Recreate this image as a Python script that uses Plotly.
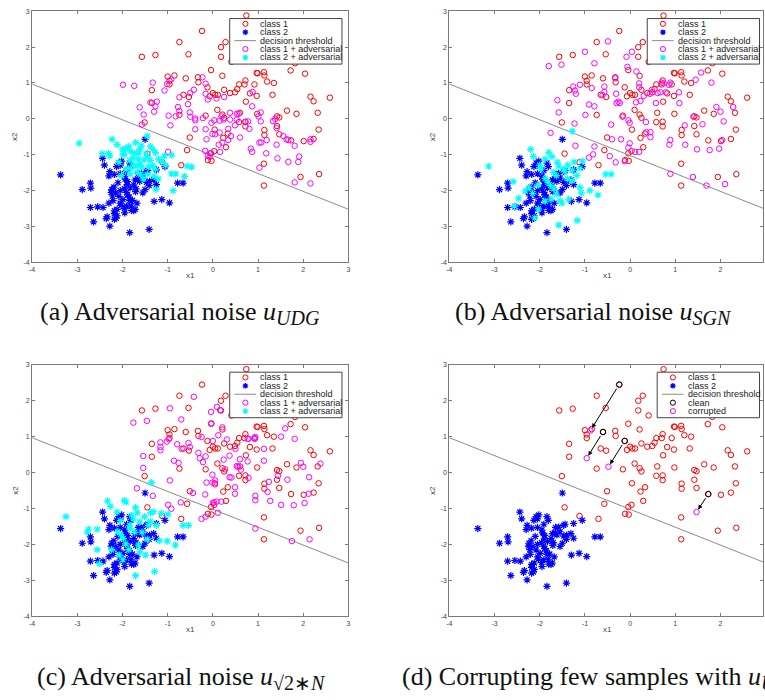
import plotly.graph_objects as go

W, H = 765, 700

# ---- class 1 samples (red circles) ----
c1_x = [-1.57, -1.27, -0.74, -0.24, 0.74, -0.54, 0.18, 0.28, 0.18, 0.41, -0.04, 0.21, -1.00, -0.96, -0.96,
        -0.85, -0.33, -0.32, -1.35, -1.35, -0.74, -0.65, -0.53, -0.07, 0.00, 0.05, 0.11, 0.25, 0.38, 0.49,
        0.54, 0.58, 0.70, 0.72, 0.92, 0.97, 0.99, 1.13, 1.14, 1.20, 1.35, 1.72, 1.82, 2.04, 2.16, 2.23, 2.59,
        2.32, 2.34, 2.23, 2.01, 1.85, 1.64, 1.42, 1.47, 1.32, 0.97, 0.82, 0.73, 0.98, 0.60, 0.58, 0.72, 0.72,
        1.14, 1.14, 1.42, 1.47, 0.10, 0.21, 0.25, -0.16, 0.04, 0.33, 0.23, 0.29, -0.51, -0.57, 0.03, -0.04,
        -0.11, -0.03, -1.51, -1.45, -1.12, -0.70, 1.13, 1.13, 1.94, 2.35, 1.73, -0.12, -0.60]
c1_y = [1.73, 1.78, 2.14, 2.45, 2.88, 1.80, 2.00, 2.14, 1.73, 1.59, 1.36, 1.20, 1.18, 1.06, 0.96,
        1.21, 1.16, 1.02, 0.80, 0.44, 0.11, 0.67, 0.61, 0.63, 0.72, 0.67, 0.67, 0.81, 0.72, 0.74,
        0.83, 0.96, 0.96, 1.07, 0.96, 1.28, 1.27, 1.30, 1.21, 1.04, 1.00, 1.35, 1.55, 1.26, 0.62, 0.49, 0.59,
        0.17, -0.30, -0.56, -0.62, 0.14, 0.23, 0.07, 0.04, 0.67, 0.64, 0.71, 0.48, 0.14, 0.17, -0.09, -0.08, -0.21,
        -0.31, -0.45, -0.20, -0.43, 0.25, 0.12, 0.03, 0.09, -0.30, -0.41, -0.53, -0.79, -0.52, -0.87, -0.90, -0.96,
        -1.15, -1.17, -0.10, -0.97, -1.21, -1.29, -1.25, -1.86, -1.62, -1.54, -0.60, 0.88, 1.13]

# ---- class 2 samples (blue asterisks) ----
c2_x = [-1.50, -3.37, -2.89, -2.71, -2.70, -2.44, -2.40, -2.28, -2.30, -2.13, -2.08, -2.02, -2.05, -1.84,
        -1.81, -1.91, -2.05, -2.18, -1.65, -1.44, -1.47, -1.25, -1.06, -1.94, -1.89, -1.90, -1.72, -1.66,
        -1.62, -1.75, -1.83, -1.47, -1.40, -1.41, -1.31, -1.25, -1.55, -1.50, -2.24, -2.19, -2.25, -2.15,
        -2.08, -2.21, -1.96, -1.91, -1.89, -1.99, -1.84, -1.78, -2.03, -1.91, -1.96, -2.18, -2.12, -1.81,
        -1.72, -1.75, -1.71, -1.30, -1.13, -0.96, -0.78, -0.66, -2.71, -2.55, -2.43, -2.34, -2.36, -2.64,
        -2.28, -2.18, -2.14, -1.84, -1.41, -2.18, -2.12, -1.95, -2.05, -1.85, -2.22, -1.58, -1.55, -2.30,
        -2.05, -1.68, -1.95, -1.80, -2.10, -1.70]
c2_y = [-0.57, -1.56, -1.97, -1.79, -1.93, -1.10, -1.29, -1.47, -1.59, -1.33, -1.23, -1.18, -1.29, -1.23,
        -1.33, -1.44, -1.53, -1.55, -1.53, -1.44, -1.47, -1.42, -1.33, -1.68, -1.75, -1.83, -1.70, -1.68,
        -1.74, -1.84, -1.92, -1.77, -1.74, -1.86, -1.70, -1.83, -2.06, -1.97, -1.97, -1.90, -2.05, -2.06,
        -2.16, -2.28, -1.95, -2.05, -2.12, -2.25, -2.28, -2.27, -2.41, -2.43, -2.50, -2.56, -2.52, -2.43,
        -2.52, -2.56, -2.03, -2.30, -2.25, -2.34, -1.79, -1.79, -2.47, -2.45, -2.47, -2.73, -2.78, -2.87,
        -2.99, -2.80, -2.77, -3.17, -3.08, -2.64, -2.70, -1.60, -2.00, -2.18, -2.15, -1.52, -1.65, -2.35,
        -2.35, -2.35, -2.62, -2.55, -1.78, -1.95]

# ---- decision threshold ----
thr_x = [-4.0, 3.0]
thr_y = [0.97, -2.52]

# ---- (a) UDG noise ----
a1_x = [-1.99, -1.74, -1.33, -1.62, -1.53, -1.57, -1.38, -1.27, -1.24, -1.30, -1.07, -1.01, -0.92, -0.98,
        -0.94, -0.77, -0.74, -0.74, -0.82, -0.51, -0.50, -0.55, -0.50, -0.42, -0.39, -0.39, -0.39, -0.22,
        -0.23, -0.16, -0.16, -0.11, -0.14, -0.16, -0.17, -0.99, -0.03, 0.03, -0.01, 0.05, -0.07, -0.06,
        -0.11, 0.08, 0.15, 0.15, 0.13, 0.16, 0.21, 0.24, 0.19, 0.25, 0.38, 0.38, 0.34, 0.34, 0.40, 0.49,
        0.53, 0.53, 0.57, 0.60, 0.72, 0.78, 0.81, 0.84, 0.87, 0.88, 0.87, 1.01, 1.06, 1.03, 1.07, 1.03,
        1.18, 1.19, 1.06, 1.33, 1.38, 1.41, 1.41, 1.43, 1.56, 1.63, 1.67, 1.67, 1.81, 1.81, 1.89, 1.91,
        2.16, 2.16, 2.16]
a1_y = [0.95, 0.92, 1.01, 0.32, 0.12, -0.16, 0.46, 0.35, 0.48, 0.20, 0.79, 0.97, 1.10, 0.09,
        -0.18, 0.33, 0.22, 0.60, 0.07, 0.18, 0.06, 0.41, 0.72, 0.81, 0.01, -0.04, -0.29, 0.02,
        1.16, 0.98, 0.70, 0.54, -0.57, -0.29, -0.89, -0.92, -0.11, -0.04, -0.42, -0.43, -1.06, -0.96,
        -1.03, 0.57, -0.05, -0.38, -0.72, -0.92, -0.66, -0.02, 0.07, 0.61, 0.17, -0.02, -0.28, -0.59, -0.48, -0.18,
        -0.02, 0.14, 0.14, -0.52, -0.09, -0.07, -0.28, -0.83, -0.92, 0.75, 0.35, 0.07, 0.18, -0.66, -0.66, -1.36,
        -0.96, -0.59, -0.07, -0.06, 0.00, -0.26, -0.72, -1.10, -0.48, -0.57, -0.59, -1.20, -0.75, -1.77, -1.20, -1.05,
        -0.57, -0.64, -1.80]
a2_x = [-2.96, -2.45, -2.23, -2.12, -2.31, -2.28, -2.00, -1.93, -1.99, -1.86, -1.82, -1.71, -1.62, -1.58,
        -1.45, -1.38, -1.33, -1.27, -1.48, -1.84, -1.77, -1.65, -1.62, -1.52, -1.43, -1.76, -1.70, -1.57,
        -1.38, -1.33, -1.27, -1.20, -1.13, -1.07, -0.91, -1.05, -1.67, -1.60, -1.83, -2.02, -1.45, -1.30,
        -1.54, -1.21, -0.92, -0.82, -0.63, -0.57, -0.47, -0.88, -1.26, -1.42, -1.73, -1.65, -2.08, -1.92,
        -1.82, -1.96]
a2_y = [-0.68, -0.97, -0.57, -0.72, -0.97, -1.03, -0.85, -0.83, -0.99, -0.77, -0.90, -0.66, -0.85, -0.75,
        -0.48, -0.77, -0.85, -0.94, -0.98, -1.16, -1.10, -1.12, -1.25, -1.14, -1.08, -1.29, -1.32, -1.34,
        -1.16, -1.31, -1.40, -1.12, -1.18, -1.03, -1.01, -1.29, -1.49, -1.54, -1.54, -1.58, -1.54, -1.60,
        -1.67, -1.67, -1.53, -1.53, -1.60, -1.32, -1.34, -2.00, -1.97, -1.34, -0.96, -0.96, -1.21, -1.40,
        -1.38, -0.98]

# ---- (b) SGN noise ----
b1_x = [-1.80, -1.52, -1.00, -0.49, -0.79, -0.08, -0.06, 0.04, 0.14, -1.61, -1.58, -1.76, -1.26, -1.22,
        -1.20, -1.11, -0.85, -0.91, -0.79, -0.57, -0.57, -0.61, -0.99, -1.23, -1.21, -0.79, -0.91, -0.82,
        -0.45, -0.42, -0.40, -0.33, -0.31, -0.30, -0.26, -0.23, -0.20, -0.17, -0.32, -0.12, -0.04, -0.01,
        -0.04, -0.01, 0.11, 0.20, 0.13, 0.20, 0.20, 0.30, 0.23, 0.35, 0.36, 0.45, 0.45, 0.44, 0.48, 0.57,
        0.61, 0.67, 0.70, 0.74, 0.79, 0.89, 0.86, 0.89, 0.87, 0.89, 1.08, 1.09, 1.21, 1.22, 1.40, 1.45,
        1.57, 1.60, 1.48, 1.39, 1.69, 1.76, 1.80, 1.91, 2.00, 2.07, 1.97, 2.04, 2.10, 2.28]
b1_y = [1.47, 1.51, 1.87, 2.16, 1.55, 1.73, 1.45, 1.87, 1.32, 0.52, 0.18, -0.39, 0.90, 0.79,
        0.70, 0.95, 0.86, 0.40, 0.35, 0.90, 0.75, 0.66, 0.11, -0.13, -0.75, -0.77, -1.08, -0.99,
        -1.04, -0.16, -0.57, 1.13, 0.70, 0.44, 0.48, 0.44, -0.57, 0.06, -1.21, -1.18, -0.04, -0.11,
        -0.80, -0.68, -0.92, -0.92, 0.46, 0.99, 0.88, 0.64, 0.50, -0.09, -0.37, -0.37, -0.51, 0.70, 0.81, 0.44,
        0.72, 0.74, 1.01, 0.99, 0.74, 1.01, 0.95, -0.59, -0.72, -1.53, 0.74, 0.44, -0.18, -0.72, 0.06, 1.09,
        1.29, -0.15, -0.85, -1.62, -1.86, -0.87, 1.01, 0.33, 0.20, -0.07, -0.83, -0.59, -1.82, 0.33]
b2_x = [-3.13, -2.59, -2.47, -2.56, -2.20, -2.14, -2.00, -1.97, -1.88, -1.80, -1.73, -1.61, -1.58, -1.69,
        -1.63, -1.47, -1.44, -1.38, -1.28, -1.24, -1.11, -1.05, -1.18, -1.28, -2.32, -2.23, -2.16, -2.04,
        -1.88, -1.82, -1.76, -1.69, -1.63, -1.55, -1.51, -1.75, -1.88, -2.03, -2.11, -1.58, -1.17, -1.08,
        -0.89, -0.71, -0.54, -0.42, -1.39, -1.29, -1.11, -1.36]
b2_y = [-1.32, -1.75, -2.21, -2.43, -0.85, -1.05, -1.29, -1.40, -1.12, -0.94, -1.05, -1.21, -1.32, -1.49,
        -1.58, -1.40, -1.47, -1.29, -1.43, -1.20, -1.38, -1.18, -1.58, -0.34, -2.01, -1.92, -2.08, -1.84,
        -1.66, -1.77, -1.86, -1.95, -2.10, -2.28, -2.35, -2.24, -2.29, -2.51, -2.76, -2.96, -2.83, -2.06,
        -2.00, -2.12, -1.54, -1.54, -1.67, -1.73, -1.91, -2.24]

# ---- (c) sqrt(2)*N noise ----
c1n_x = [-1.76, -1.46, -0.42, -0.95, -0.70, -0.04, 0.09, 0.16, 0.21, -0.03, -0.25, 0.12, 0.00, 0.31,
         -1.16, -1.16, -1.16, -0.98, -1.02, -0.79, -0.86, -0.76, -0.69, -0.54, -0.51, -1.54, -1.54, -1.68,
         -1.33, -0.95, -0.99, -0.92, -0.71, -0.44, -0.32, -0.29, -0.22, -0.16, -0.14, -0.17, -0.25, -0.16,
         -0.01, -0.01, 0.05, 0.05, 0.00, 0.03, 0.08, 0.11, 0.19, 0.24, 0.27, 0.37, 0.37, 0.41, 0.49, 0.49,
         0.50, 0.53, 0.56, 0.60, 0.62, 0.77, 0.79, 0.93, 0.94, 0.92, 0.77, 0.79, 0.94, 0.94, 0.94, 1.13,
         1.13, 1.21, 1.24, 1.27, 1.44, 1.51, 1.60, 1.65, 1.51, 1.75, 1.81, 1.79, 1.95, 2.03, 2.00, 2.13,
         2.12, 2.38, 2.14]
c1n_y = [1.39, 1.44, 2.11, 1.79, 1.48, 1.69, 1.83, 1.74, 1.26, 1.37, 0.99, 1.04, 0.88, 0.92,
         0.84, 0.71, 0.62, 0.93, 0.86, 0.79, 0.33, 0.27, 0.66, 0.82, 0.71, 0.46, 0.13, -0.44,
         -0.65, -0.22, -0.90, -1.01, -0.83, -0.57, 0.55, 0.40, 0.29, 0.45, -0.28, -0.61, -1.29, -1.23,
         -0.06, -0.28, -0.22, -0.33, -0.85, -0.83, -0.81, -1.12, -0.81, 0.36, 0.09, 0.47, -0.13, -0.14, -0.41, -0.59,
         0.66, 0.18, 0.16, 0.37, 0.08, 0.94, 0.94, 0.94, 0.99, 0.95, 0.31, -0.15, -0.65, -0.77, -1.56, 0.66,
         0.33, -0.54, -0.26, -0.79, -0.09, 1.00, 1.23, -0.20, -0.90, -1.91, 0.94, -0.91, 0.27, -0.85, 0.16, -0.13,
         -0.59, 0.25, -1.86]
c2n_x = [-3.25, -2.78, -2.75, -2.56, -2.56, -2.51, -2.33, -2.27, -2.12, -1.96, -1.92, -1.71, -1.67, -1.51,
         -1.38, -1.32, -1.14, -0.99, -1.36, -1.80, -1.76, -1.62, -1.84, -1.83, -2.11, -2.04, -1.73, -1.57,
         -1.43, -1.38, -1.25, -0.66, -0.54, -1.01, -0.83, -1.18, -1.65, -1.62, -1.86, -2.07, -1.99, -1.49,
         -1.71, -1.29, -1.45, -1.93, -2.24, -2.05, -1.98]
c2n_y = [-1.23, -1.66, -1.58, -1.58, -2.15, -2.54, -0.79, -0.94, -1.10, -0.78, -0.82, -0.98, -1.12, -1.23,
         -1.12, -1.09, -1.14, -1.16, -0.28, -1.19, -1.29, -1.38, -1.47, -1.56, -1.65, -1.73, -1.66, -1.66,
         -1.47, -1.36, -1.47, -1.47, -1.47, -1.91, -2.02, -1.90, -2.02, -2.21, -2.15, -2.30, -2.43, -2.30,
         -2.87, -2.76, -1.86, -1.99, -2.15, -1.34, -1.84]

# ---- (d) a few corrupted class-1 samples ----
clean_x = [-0.24, -0.60, -0.12, 1.73]
clean_y = [2.45, 1.13, 0.88, -0.60]
corr_x = [-0.88, -0.96, -0.48, 1.47]
corr_y = [1.17, 0.40, 0.16, -1.10]

tick_vals = [-4, -3, -2, -1, 0, 1, 2, 3]
tick_text = ["-4", "-3", "-2", "-1", "0", "1", "2", "3"]

RED, BLUE, MAG, CYAN, GREY = "#ff0000", "#0000ff", "#ff00ff", "#00ffff", "#8c8c8c"

# panel geometry in pixels: x=-4 / x=3 positions, y=3 / y=-4 positions
COLS = [(29.3, 347.7), (449.3, 768.0)]
ROWS = [(7.3, 261.0), (364.5, 618.3)]
UNIT = (COLS[0][1] - COLS[0][0]) / 7.0


def px(x):
    return x / W


def py(y):
    return 1 - y / H


fig = go.Figure()


def circles(xs, ys, color, ax):
    fig.add_trace(go.Scatter(x=xs, y=ys, mode="markers", xaxis="x" + ax, yaxis="y" + ax,
                             marker=dict(symbol="circle-open", size=5.5, color=color,
                                         line=dict(width=1, color=color)),
                             showlegend=False, hoverinfo="skip"))


def stars(xs, ys, color, ax):
    fig.add_trace(go.Scatter(x=xs, y=ys, mode="markers", xaxis="x" + ax, yaxis="y" + ax,
                             marker=dict(symbol="asterisk-open", size=6, color=color,
                                         line=dict(width=1.2, color=color)),
                             showlegend=False, hoverinfo="skip"))


def threshold(ax):
    fig.add_trace(go.Scatter(x=thr_x, y=thr_y, mode="lines", xaxis="x" + ax, yaxis="y" + ax,
                             line=dict(color=GREY, width=1), showlegend=False, hoverinfo="skip"))


# (a)
circles(c1_x, c1_y, RED, "")
stars(c2_x, c2_y, BLUE, "")
threshold("")
circles(a1_x, a1_y, MAG, "")
stars(a2_x, a2_y, CYAN, "")
# (b)
circles(c1_x, c1_y, RED, "2")
stars(c2_x, c2_y, BLUE, "2")
threshold("2")
circles(b1_x, b1_y, MAG, "2")
stars(b2_x, b2_y, CYAN, "2")
# (c)
circles(c1_x, c1_y, RED, "3")
stars(c2_x, c2_y, BLUE, "3")
threshold("3")
circles(c1n_x, c1n_y, MAG, "3")
stars(c2n_x, c2n_y, CYAN, "3")
# (d)
circles(c1_x, c1_y, RED, "4")
stars(c2_x, c2_y, BLUE, "4")
threshold("4")
circles(clean_x, clean_y, "#000000", "4")
circles(corr_x, corr_y, MAG, "4")

annotations = []
shapes = []

for cx0, cy0, ex, ey in zip(clean_x, clean_y, corr_x, corr_y):
    annotations.append(dict(x=ex, y=ey, ax=cx0, ay=cy0, xref="x4", yref="y4", axref="x4", ayref="y4",
                            text="", showarrow=True, arrowhead=2, arrowsize=0.9, arrowwidth=1,
                            arrowcolor="#000000", standoff=3, startstandoff=3))

axis_common = dict(showgrid=False, zeroline=False, showline=True, linecolor="#7a7a7a", linewidth=1,
                   mirror="ticks", ticks="inside", ticklen=3, tickcolor="#7a7a7a",
                   tickvals=tick_vals, ticktext=tick_text,
                   tickfont=dict(family="Liberation Sans", size=7, color="#444444"))

layout_axes = {}
panels = [("", 0, 0), ("2", 1, 0), ("3", 0, 1), ("4", 1, 1)]
for ax, ci, ri in panels:
    x0, x1 = COLS[ci]
    t, b = ROWS[ri]
    right = min(x1, W)
    xmax = -4 + (right - x0) / UNIT
    layout_axes["xaxis" + ax] = dict(axis_common, domain=[px(x0), px(right)], range=[-4, xmax],
                                     anchor="y" + ax)
    layout_axes["yaxis" + ax] = dict(axis_common, domain=[py(b), py(t)], range=[-4, 3],
                                     anchor="x" + ax)
    # axis titles
    annotations.append(dict(x=px((x0 + x1) / 2), y=py(b + 13.5), xref="paper", yref="paper",
                            text="x1", showarrow=False, xanchor="center", yanchor="middle",
                            font=dict(family="Liberation Sans", size=8, color="#444444")))
    annotations.append(dict(x=px(x0 - 17), y=py((t + b) / 2), xref="paper", yref="paper",
                            text="x2", showarrow=False, textangle=-90, xanchor="center", yanchor="middle",
                            font=dict(family="Liberation Sans", size=8, color="#444444")))


def legend(ax_right, ax_top, box_w, items):
    bl, br = ax_right - 6.5 - box_w, ax_right - 6.5
    bt = ax_top + 7.4
    bb = bt + 46
    shapes.append(dict(type="rect", xref="paper", yref="paper", x0=px(bl), x1=px(br), y0=py(bb), y1=py(bt),
                       fillcolor="white", line=dict(color="#444444", width=1), layer="above"))
    for i, (kind, color, label) in enumerate(items):
        yc = bt + 5.3 + i * 8.5
        sx = bl + 15.8
        if kind == "circle":
            r = 2.6
            shapes.append(dict(type="circle", xref="paper", yref="paper", x0=px(sx - r), x1=px(sx + r),
                               y0=py(yc + r), y1=py(yc - r), line=dict(color=color, width=1), layer="above"))
        elif kind == "star":
            r = 2.8
            d = 0.7071 * r
            path = (f"M{px(sx - r)},{py(yc)} L{px(sx + r)},{py(yc)} "
                    f"M{px(sx)},{py(yc - r)} L{px(sx)},{py(yc + r)} "
                    f"M{px(sx - d)},{py(yc - d)} L{px(sx + d)},{py(yc + d)} "
                    f"M{px(sx - d)},{py(yc + d)} L{px(sx + d)},{py(yc - d)}")
            shapes.append(dict(type="path", xref="paper", yref="paper", path=path,
                               line=dict(color=color, width=1.3), layer="above"))
        else:
            shapes.append(dict(type="line", xref="paper", yref="paper", x0=px(bl + 4.7), x1=px(bl + 26.5),
                               y0=py(yc), y1=py(yc), line=dict(color=color, width=1), layer="above"))
        annotations.append(dict(x=px(bl + 28.7), y=py(yc), xref="paper", yref="paper", text=label,
                                showarrow=False, xanchor="left", yanchor="middle",
                                font=dict(family="Liberation Sans", size=9, color="#222222")))


adv_items = [("circle", RED, "class 1"), ("star", BLUE, "class 2"), ("line", GREY, "decision threshold"),
             ("circle", MAG, "class 1 + adversarial"), ("star", CYAN, "class 2 + adversarial")]
legend(COLS[0][1], ROWS[0][0], 113, adv_items)
legend(COLS[1][1], ROWS[0][0], 113, adv_items)
legend(COLS[0][1], ROWS[1][0], 113, adv_items)
legend(COLS[1][1], ROWS[1][0], 103,
       [("circle", RED, "class 1"), ("star", BLUE, "class 2"), ("line", GREY, "decision threshold"),
        ("circle", "#000000", "clean"), ("circle", MAG, "corrupted")])

# sub-figure captions
cap_font = dict(family="Liberation Serif", size=26, color="#111111")
SUB = "<sub><span style='font-size:20px'>{}</span></sub>"
captions = [
    (35, 312, "(a) Adversarial noise <i>u</i>" + SUB.format("<i>UDG</i>")),
    (453, 312, "(b) Adversarial noise <i>u</i>" + SUB.format("<i>SGN</i>")),
    (32, 681, "(c) Adversarial noise <i>u</i>" + SUB.format("√2∗<i>N</i>")),
    (400, 681, "(d) Corrupting few samples with <i>u</i>" + SUB.format("<i>UDG</i>")),
]
for cx, cy, txt in captions:
    annotations.append(dict(x=px(cx), y=py(cy), xref="paper", yref="paper", text=txt, showarrow=False,
                            xanchor="left", yanchor="middle", font=cap_font))

fig.update_layout(width=W, height=H, margin=dict(l=0, r=0, t=0, b=0), paper_bgcolor="white",
                  plot_bgcolor="white", showlegend=False, annotations=annotations, shapes=shapes,
                  **layout_axes)

fig.write_html("out.html")
